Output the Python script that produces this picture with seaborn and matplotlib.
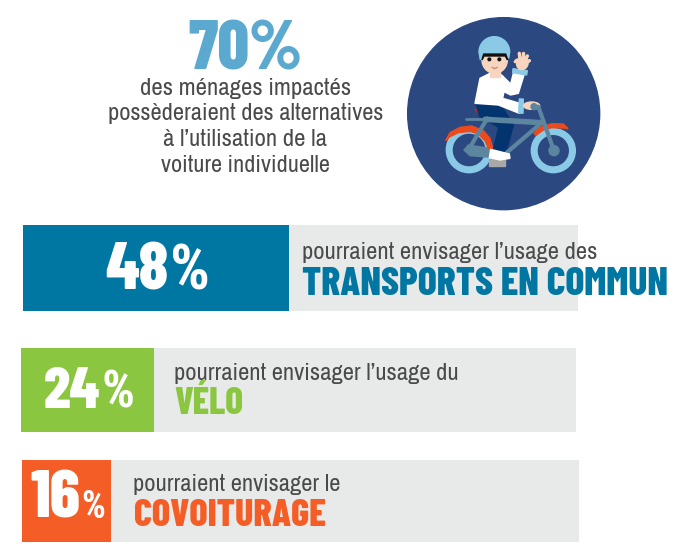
import matplotlib
matplotlib.use("Agg")
import matplotlib.pyplot as plt
from matplotlib.patches import Circle, Wedge, Polygon, Ellipse, Rectangle
import seaborn as sns
import pandas as pd

W, H = 680, 548
LIGHT = ["Archivo Narrow", "Roboto", "DejaVu Sans"]
HEAVY = ["Barlow Condensed", "Roboto", "DejaVu Sans"]
PERCENT = ["Roboto Condensed", "Roboto", "DejaVu Sans"]

# data
categories = ["TRANSPORTS EN COMMUN", "VÉLO", "COVOITURAGE"]
shares = [48, 24, 16]
full_scale = [100, 100, 100]
intro_lines = ["pourraient envisager l’usage des", "pourraient envisager l’usage du", "pourraient envisager le"]
bar_colors = ["#0076A3", "#8BC640", "#F55D27"]
headline_value = "70%"
headline_lines = ["des ménages impactés", "possèderaient des alternatives", "à l’utilisation de la", "voiture individuelle"]

# layout in pixels
boxes = [(22.5, 578, 225, 310.5), (21, 576, 347.5, 431.5), (21.5, 579, 459.5, 541.5)]
digit_xy = [(105, 168, 290), (44, 100, 408), (30, 80, 518)]
pct_x = [(170, 210), (101, 134), (81, 105)]
intro_xy = [(302, 597, 259), (174, 458, 380), (133, 339, 491)]
cat_xy = [(302, 668, 295), (174, 243, 414), (134, 326, 526)]
head_xy = [(140, 350, 95), (108, 382, 120.5), (163, 327, 146), (161, 329, 172)]

sns.set_theme(style="white")
fig = plt.figure(figsize=(W / 100, H / 100), dpi=100, facecolor="white")
renderer = fig.canvas.get_renderer()


def fit(x0, x1, base, s, family, color, weight="normal"):
    """Write s on the pixel baseline, sized so that it spans x0..x1."""
    t = fig.text(x0 / W, 1 - base / H, s, family=family, color=color, weight=weight,
                 fontsize=20, ha="left", va="baseline")
    t.set_fontsize(20 * (x1 - x0) / t.get_window_extent(renderer).width)
    return t


for i, (l, r, t, b) in enumerate(boxes):
    ax = fig.add_axes([l / W, 1 - b / H, (r - l) / W, (b - t) / H])
    df = pd.DataFrame({"c": [categories[i]], "v": [shares[i]], "f": [full_scale[i]]})
    sns.barplot(data=df, y="c", x="f", color="#E8EAE9", width=1, ax=ax, saturation=1, linewidth=0)
    sns.barplot(data=df, y="c", x="v", color=bar_colors[i], width=1, ax=ax, saturation=1, linewidth=0)
    ax.set_xlim(0, 100)
    ax.set_ylim(0.5, -0.5)
    ax.axis("off")
    d0, d1, base = digit_xy[i]
    fit(d0, d1, base, str(shares[i]), HEAVY, "white", weight="heavy")
    fit(pct_x[i][0], pct_x[i][1], base, "%", PERCENT, "white", weight="bold")
    fit(intro_xy[i][0], intro_xy[i][1], intro_xy[i][2], intro_lines[i], LIGHT, "#4A4A4C")
    fit(cat_xy[i][0], cat_xy[i][1], cat_xy[i][2], categories[i], HEAVY, bar_colors[i], weight="heavy")

fit(188, 302, 70, headline_value, HEAVY, "#5CA9D0", weight="heavy")
for (x0, x1, base), s in zip(head_xy, headline_lines):
    fit(x0, x1, base, s, LIGHT, "#4A4A4C")

# illustration, drawn in an inset with its own coordinates
a = fig.add_axes([400 / W, 1 - 215 / H, 210 / W, 205 / H])
a.set_xlim(0, 630)
a.set_ylim(615, 0)
a.axis("off")
a.patch.set_alpha(0)
NAVY, SKY, STEEL, ORANGE, SKIN = "#2B4880", "#8ACAE6", "#5C869F", "#EC4A1C", "#F8D5BE"
a.add_patch(Circle((311, 311), 288, color=NAVY))
for c, rad in [((207, 420), 68), ((460, 422), 66)]:
    a.add_patch(Wedge(c, rad, 0, 360, width=17, color=SKY))
# frame
for p, q, w in [((198, 327), (250, 327), 2), ((262, 325), (205, 420), 3), ((255, 328), (425, 338), 4),
                ((425, 338), (320, 428), 3), ((415, 290), (462, 422), 3)]:
    a.plot([p[0], q[0]], [p[1], q[1]], color=STEEL, lw=w, solid_capstyle="round")
a.add_patch(Circle((462, 422), 15, color=STEEL))
a.add_patch(Polygon([(205, 405), (300, 420), (310, 445), (210, 437), (192, 420)], color=STEEL))
# fenders
a.add_patch(Polygon([(137, 392), (150, 368), (180, 352), (215, 348), (250, 362), (270, 385), (278, 415),
                     (265, 415), (255, 392), (235, 372), (210, 364), (175, 368), (150, 380)], color=ORANGE))
a.add_patch(Polygon([(402, 370), (420, 352), (455, 341), (490, 342), (504, 356), (490, 354), (455, 353), (430, 360),
                     (408, 376)], color=ORANGE))
# pedal, shoe
a.add_patch(Rectangle((268, 447), 46, 21, color="#A8A8A8"))
a.add_patch(Polygon([(272, 418), (300, 425), (328, 432), (330, 445), (300, 450), (268, 443)], color="white", zorder=3))
# seat and legs
a.add_patch(Polygon([(225, 296), (250, 305), (252, 316), (235, 312)], color="#B5301E"))
a.add_patch(Polygon([(228, 280), (300, 280), (340, 345), (318, 428), (280, 420), (296, 352), (238, 318)],
                    color="#04346F"))
# torso and arms
a.add_patch(Polygon([(240, 205), (270, 190), (305, 195), (332, 222), (340, 190), (372, 195), (355, 250), (332, 255),
                     (312, 245), (308, 265), (360, 280), (358, 310), (295, 285), (225, 280)], color="white"))
a.add_patch(Polygon([(339, 176), (382, 182), (380, 195), (338, 188)], color=SKY))
a.add_patch(Polygon([(358, 267), (370, 267), (369, 310), (356, 309)], color=SKY))
# hands
a.add_patch(Ellipse((367, 160), 34, 38, angle=20, color=SKIN))
for x0, y0, x1, y1 in [(352, 150, 346, 155), (360, 145, 358, 130), (368, 145, 368, 130), (376, 150, 382, 138),
                       (380, 158, 388, 152)]:
    a.plot([x0, x1], [y0, y1], color=SKIN, lw=2.5, solid_capstyle="round")
a.add_patch(Ellipse((395, 287), 48, 22, color=SKIN))
a.add_patch(Circle((402, 290), 9, color=STEEL))
# head
a.add_patch(Polygon([(270, 180), (300, 180), (300, 200), (270, 200)], color=SKIN))
a.add_patch(Ellipse((284, 150), 76, 80, color=SKIN))
a.add_patch(Polygon([(246, 150), (246, 127), (322, 127), (322, 150), (316, 138), (252, 138)], color="#111111"))
a.add_patch(Wedge((283, 126), 46, 180, 360, color=SKY))
a.add_patch(Polygon([(237, 126), (329, 126), (326, 145), (320, 128), (248, 128), (241, 150)], color=SKY))
a.add_patch(Circle((268, 148), 4, color="#111111"))
a.add_patch(Circle((298, 148), 4, color="#111111"))
a.plot([276, 284, 292], [172, 176, 172], color="#C98B7A", lw=1)

fig.savefig("out.png", dpi=100, facecolor="white")
